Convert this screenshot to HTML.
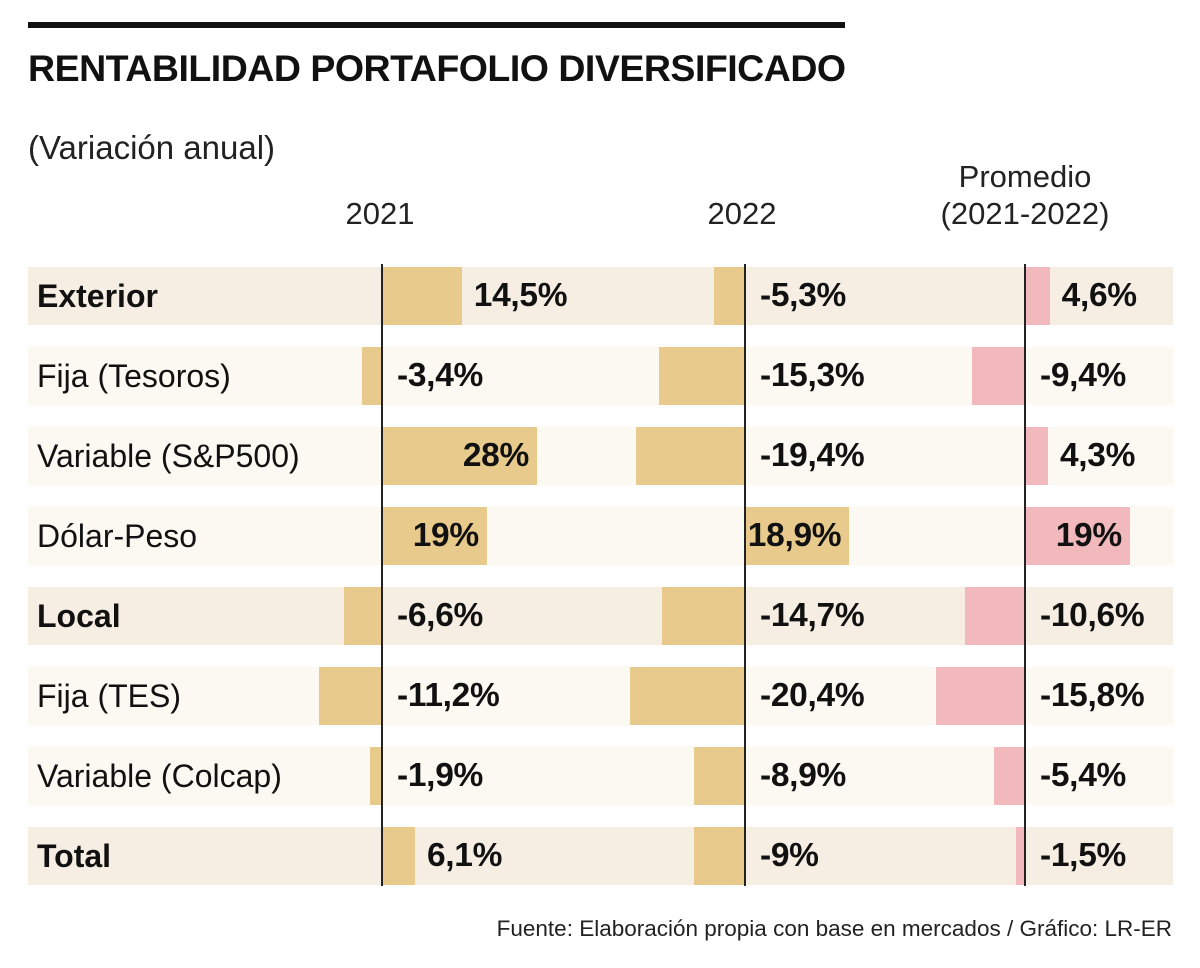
<!DOCTYPE html>
<html><head><meta charset="utf-8">
<style>
body{margin:0;width:1200px;height:968px;background:#fff;font-family:"Liberation Sans",sans-serif;position:relative;overflow:hidden}
.abs{position:absolute}
</style></head>
<body>
<div class="abs" style="left:28px;top:22px;width:817px;height:6px;background:#111"></div>
<div class="abs" style="left:28px;top:47px;font-size:37.5px;font-weight:bold;color:#111;letter-spacing:-0.5px">RENTABILIDAD PORTAFOLIO DIVERSIFICADO</div>
<div class="abs" style="left:28px;top:129px;font-size:33px;color:#222">(Variación anual)</div>
<div class="abs" style="left:330px;top:196px;width:100px;text-align:center;font-size:31px;color:#222">2021</div>
<div class="abs" style="left:692px;top:196px;width:100px;text-align:center;font-size:31px;color:#222">2022</div>
<div class="abs" style="left:900px;top:158px;width:250px;text-align:center;font-size:31px;color:#222;line-height:37px">Promedio<br>(2021-2022)</div>
<div id="chart"></div>
<div class="abs" style="right:28px;top:916px;font-size:22.5px;color:#222">Fuente: Elaboración propia con base en mercados / Gráfico: LR-ER</div>
<script>
const categories=["Exterior","Fija (Tesoros)","Variable (S&P500)","Dólar-Peso","Local","Fija (TES)","Variable (Colcap)","Total"];
const boldRows=[true,false,false,false,true,false,false,true];
const values2021=[14.5,-3.4,28,19,-6.6,-11.2,-1.9,6.1];
const values2022=[-5.3,-15.3,-19.4,18.9,-14.7,-20.4,-8.9,-9];
const valuesAvg=[4.6,-9.4,4.3,19,-10.6,-15.8,-5.4,-1.5];
const labels2021=["14,5%","-3,4%","28%","19%","-6,6%","-11,2%","-1,9%","6,1%"];
const labels2022=["-5,3%","-15,3%","-19,4%","18,9%","-14,7%","-20,4%","-8,9%","-9%"];
const labelsAvg=["4,6%","-9,4%","4,3%","19%","-10,6%","-15,8%","-5,4%","-1,5%"];
const scale=5.57;
const root=document.getElementById('chart');
function div(css){const d=document.createElement('div');d.className='abs';d.style.cssText=css;root.appendChild(d);return d;}
const cols=[{zero:381,vals:values2021,labs:labels2021,color:'#e8ca8d',name:'2021'},
            {zero:744,vals:values2022,labs:labels2022,color:'#e8ca8d',name:'2022'},
            {zero:1024,vals:valuesAvg,labs:labelsAvg,color:'#f2b9bd',name:'promedio'}];
categories.forEach((c,i)=>{
  const top=267+i*80;
  const bg=div(`left:28px;top:${top}px;width:1145px;height:58px;background:${boldRows[i]?'#f6eee3':'#fcf8f2'}`);
  
  
  const lb=div(`left:37px;top:${top+11}px;font-size:32px;color:#111;font-weight:${boldRows[i]?'bold':'normal'}`);
  lb.textContent=c;
  
  
  cols.forEach(col=>{
    const v=col.vals[i];const w=Math.abs(v)*scale;
    const left=v>=0?col.zero:col.zero-w;
    const b=div(`left:${left}px;top:${top}px;width:${w}px;height:58px;background:${col.color}`);
    
    
    let css=`top:${top+10}px;font-size:33.5px;font-weight:bold;color:#111;white-space:nowrap;letter-spacing:-0.3px;`;
    if(v<0) css+=`left:${col.zero+16}px;`;
    else if(w>90) css+=`right:${1200-(col.zero+w-8)}px;`;
    else css+=`left:${col.zero+w+12}px;`;
    const t=div(css);t.textContent=col.labs[i];
    
    
  });
});
cols.forEach(col=>{
  const l=div(`left:${col.zero}px;top:264px;width:1.5px;height:622px;background:#222`);
  
  
});
</script>
</body></html>
